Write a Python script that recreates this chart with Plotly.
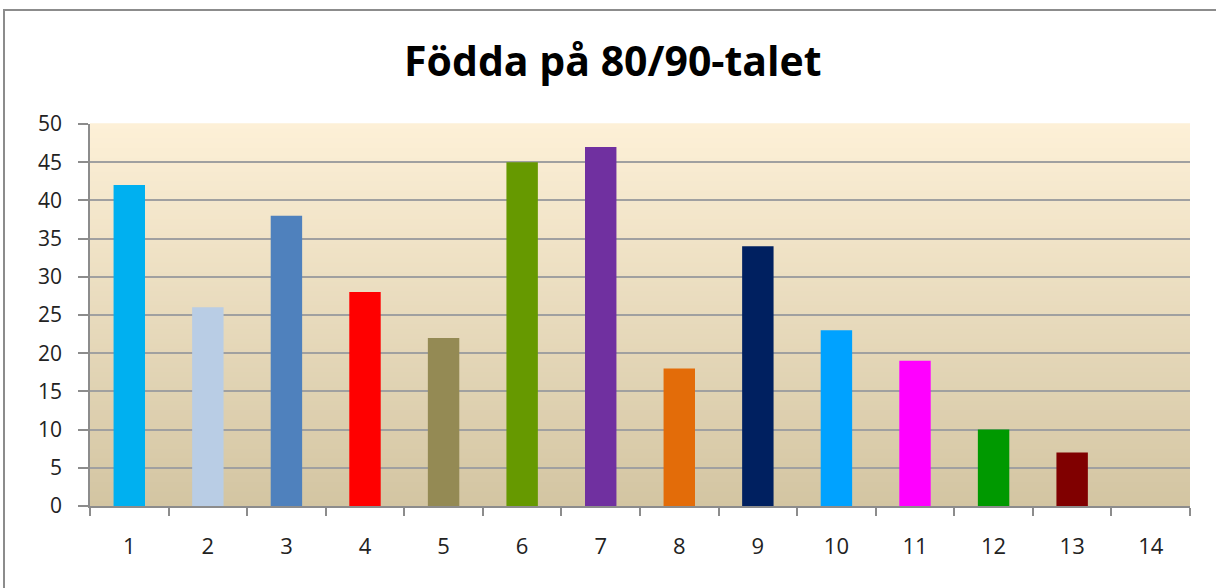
import plotly.graph_objects as go

categories = [str(i) for i in range(1, 15)]
values = [42, 26, 38, 28, 22, 45, 47, 18, 34, 23, 19, 10, 7, None]
bar_colors = ["#00b0f0", "#b9cde5", "#4f81bd", "#ff0000", "#948a54", "#669900",
              "#7030a0", "#e36c09", "#002060", "#00a2ff", "#ff00ff", "#009900",
              "#800000", "#ffffff"]
title_text = "Födda på 80/90-talet"

W, H = 1216, 588
L, R, T, B = 90, 26, 124, 82

fig = go.Figure()
fig.add_trace(go.Bar(x=categories, y=values, marker=dict(color=bar_colors, line=dict(width=0)),
                     hoverinfo="x+y"))

# gradient background
shapes = []
top = (253, 240, 215)
bot = (211, 197, 162)
n = 80
for i in range(n):
    f = (i + 0.5) / n
    c = tuple(round(bot[k] + (top[k] - bot[k]) * f) for k in range(3))
    shapes.append(dict(type="rect", xref="x domain", yref="y domain",
                       x0=0, x1=1, y0=i / n, y1=(i + 1) / n + 0.002,
                       fillcolor="rgb(%d,%d,%d)" % c, line=dict(width=0), layer="below"))
# outer chart border
pw, ph = W - L - R, H - T - B
shapes.append(dict(type="rect", xref="paper", yref="paper",
                   x0=(4 - L) / pw, x1=(1240 - L) / pw,
                   y0=(H - B - 600) / ph, y1=(H - B - 10) / ph,
                   line=dict(color="#8c8c8c", width=2), fillcolor="rgba(0,0,0,0)", layer="below"))

fig.update_layout(
    width=W, height=H,
    margin=dict(l=L, r=R, t=T, b=B, autoexpand=False),
    paper_bgcolor="white", plot_bgcolor="rgba(0,0,0,0)",
    shapes=shapes,
    bargap=0.6,
    showlegend=False,
    title=dict(text="<b>" + title_text + "</b>", x=0.504, xanchor="center", xref="container",
               y=1 - 62 / H, yanchor="middle", yref="container",
               font=dict(family="Open Sans", size=41, color="black")),
    font=dict(family="Open Sans", color="#222"),
)
fig.update_xaxes(type="category", tickson="boundaries", ticks="outside", ticklen=8,
                 tickcolor="#8c8c8c", tickwidth=1.5, showline=True, linecolor="#8c8c8c",
                 linewidth=1.5, showgrid=False, tickfont=dict(size=22, color="#222"),
                 ticklabelstandoff=20, range=[-0.5, 13.5])
fig.update_yaxes(range=[0, 50], dtick=5, ticks="outside", ticklen=10, tickcolor="#8c8c8c",
                 tickwidth=1.5, showline=True, linecolor="#8c8c8c", linewidth=1.5,
                 showgrid=True, gridcolor="#a0a0a0", gridwidth=1.5, zeroline=False,
                 tickfont=dict(size=21, color="#222"), ticklabelstandoff=12)

fig.write_html("out.html", config={"displayModeBar": False},
               post_script="document.body.style.margin='0';")
